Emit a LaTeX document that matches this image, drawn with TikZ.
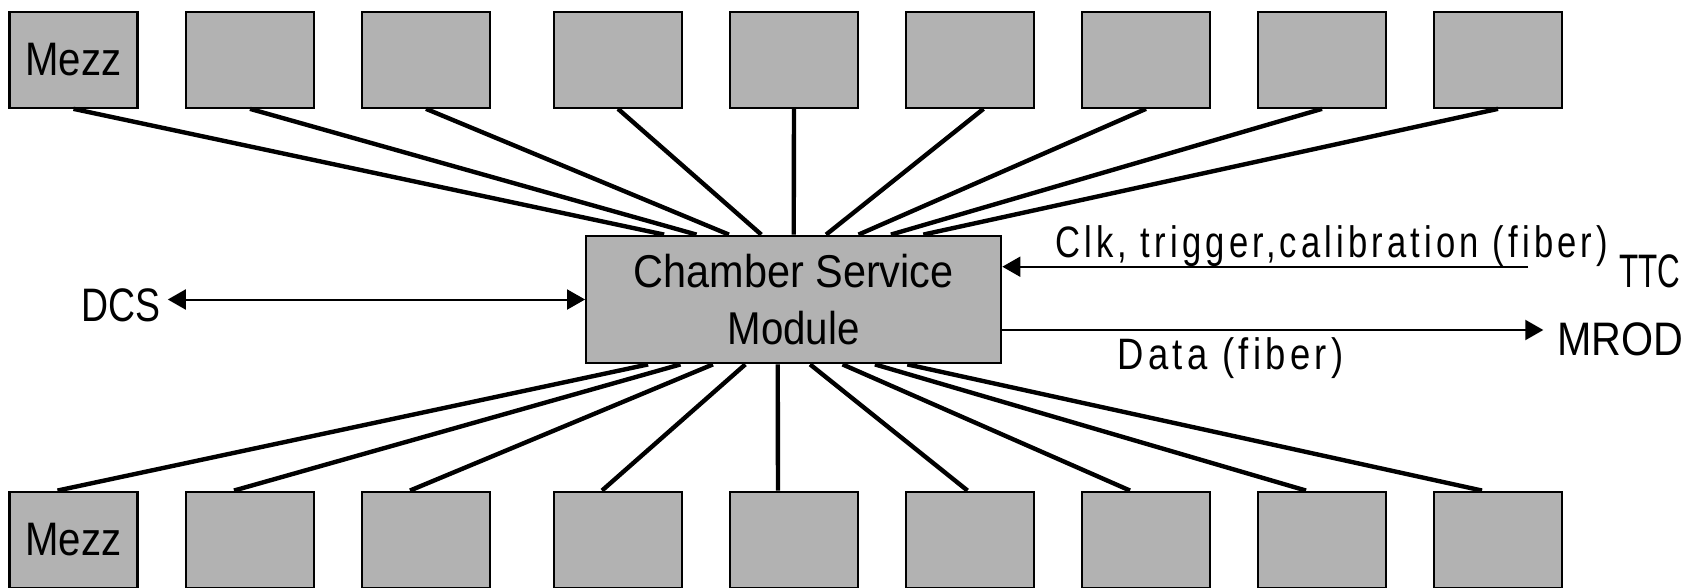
\documentclass[tikz,border=0pt]{standalone}
\usepackage{graphicx}
\usepackage{fontspec}
\setmainfont{Liberation Sans}
\newfontfamily\lblfont{Liberation Sans}[LetterSpace=12]
\usetikzlibrary{arrows.meta,calc}
\definecolor{boxgray}{RGB}{178,178,178}
% set a text to a given width, keeping its height (narrow lettering)
\newcommand{\fitw}[2]{\resizebox{#1}{\height}{#2}}
\tikzset{
  mezz/.style={draw, line width=2.3pt, fill=boxgray, minimum width=128pt,
    minimum height=96pt, inner sep=0pt, font=\fontsize{47}{50}\selectfont},
  csm/.style={draw, line width=2.3pt, fill=boxgray, minimum width=415pt,
    minimum height=127.5pt, inner sep=0pt, align=center,
    font=\fontsize{46}{57.7}\selectfont},
  link/.style={line width=4.4pt},
  tip/.tip={Triangle[length=18pt,width=20pt]},
  sig/.style={line width=2pt, -tip},
  lbl/.style={inner sep=0pt, anchor=base west, font=\fontsize{44}{48}\lblfont},
  big/.style={inner sep=0pt, anchor=base west, font=\fontsize{47}{50}\selectfont},
}
\begin{document}
\begin{tikzpicture}[x=1pt,y=-1pt]
\useasboundingbox (0,0) rectangle (1702,587);

% mezzanine cards, top and bottom rows
\node[mezz] (t1) at (73.5,59.7) {\fitw{96pt}{Mezz}};
\node[mezz] (b1) at (73.5,539.7) {\fitw{96pt}{Mezz}};
\foreach \i/\cx in {2/250,3/426,4/618,5/794,6/970,7/1146,8/1322,9/1498} {
  \node[mezz] (t\i) at (\cx,59.7) {};
  \node[mezz] (b\i) at (\cx,539.7) {};
}

% chamber service module
\node[csm] (csm) at (793.7,299.5)
  {\fitw{320pt}{Chamber Service}\\\fitw{132pt}{Module}};

% cables from every card to the module
\foreach \i/\dx in {1/0,2/0,3/0,4/0,5/0,6/13.5,7/0,8/0,9/0} {
  \pgfmathsetmacro{\off}{(\i-5)*32.4}
  \draw[link] ($(t\i.south)+(\dx,0)$) -- ($(csm.north)+(\off,0)$);
  \draw[link] ($(b\i.north)+(\dx-16,0)$) -- ($(csm.south)+(\off-16,0)$);
}

% external links
\node[big] (dcs) at (81.4,321.3) {\fitw{79pt}{DCS}};
\draw[line width=2pt, tip-tip] ([xshift=7pt]dcs.east |- csm.west) -- (csm.west);

\coordinate (ttcin) at (1528,266.7);
\draw[sig] (ttcin) -- (ttcin -| csm.east);
\node[lbl] (clk) at (1055,257) {\fitw{553pt}{Clk, trigger,calibration (fiber)}};
\node[big] (ttc) at (1619,287) {\fitw{61pt}{TTC}};

\coordinate (mrodout) at (1543.3,330);
\draw[sig] (mrodout -| csm.east) -- (mrodout);
\node[lbl] (data) at (1117.3,369) {\fitw{226pt}{Data (fiber)}};
\node[big] (mrod) at (1557,355) {\fitw{126pt}{MROD}};
\end{tikzpicture}
\end{document}
